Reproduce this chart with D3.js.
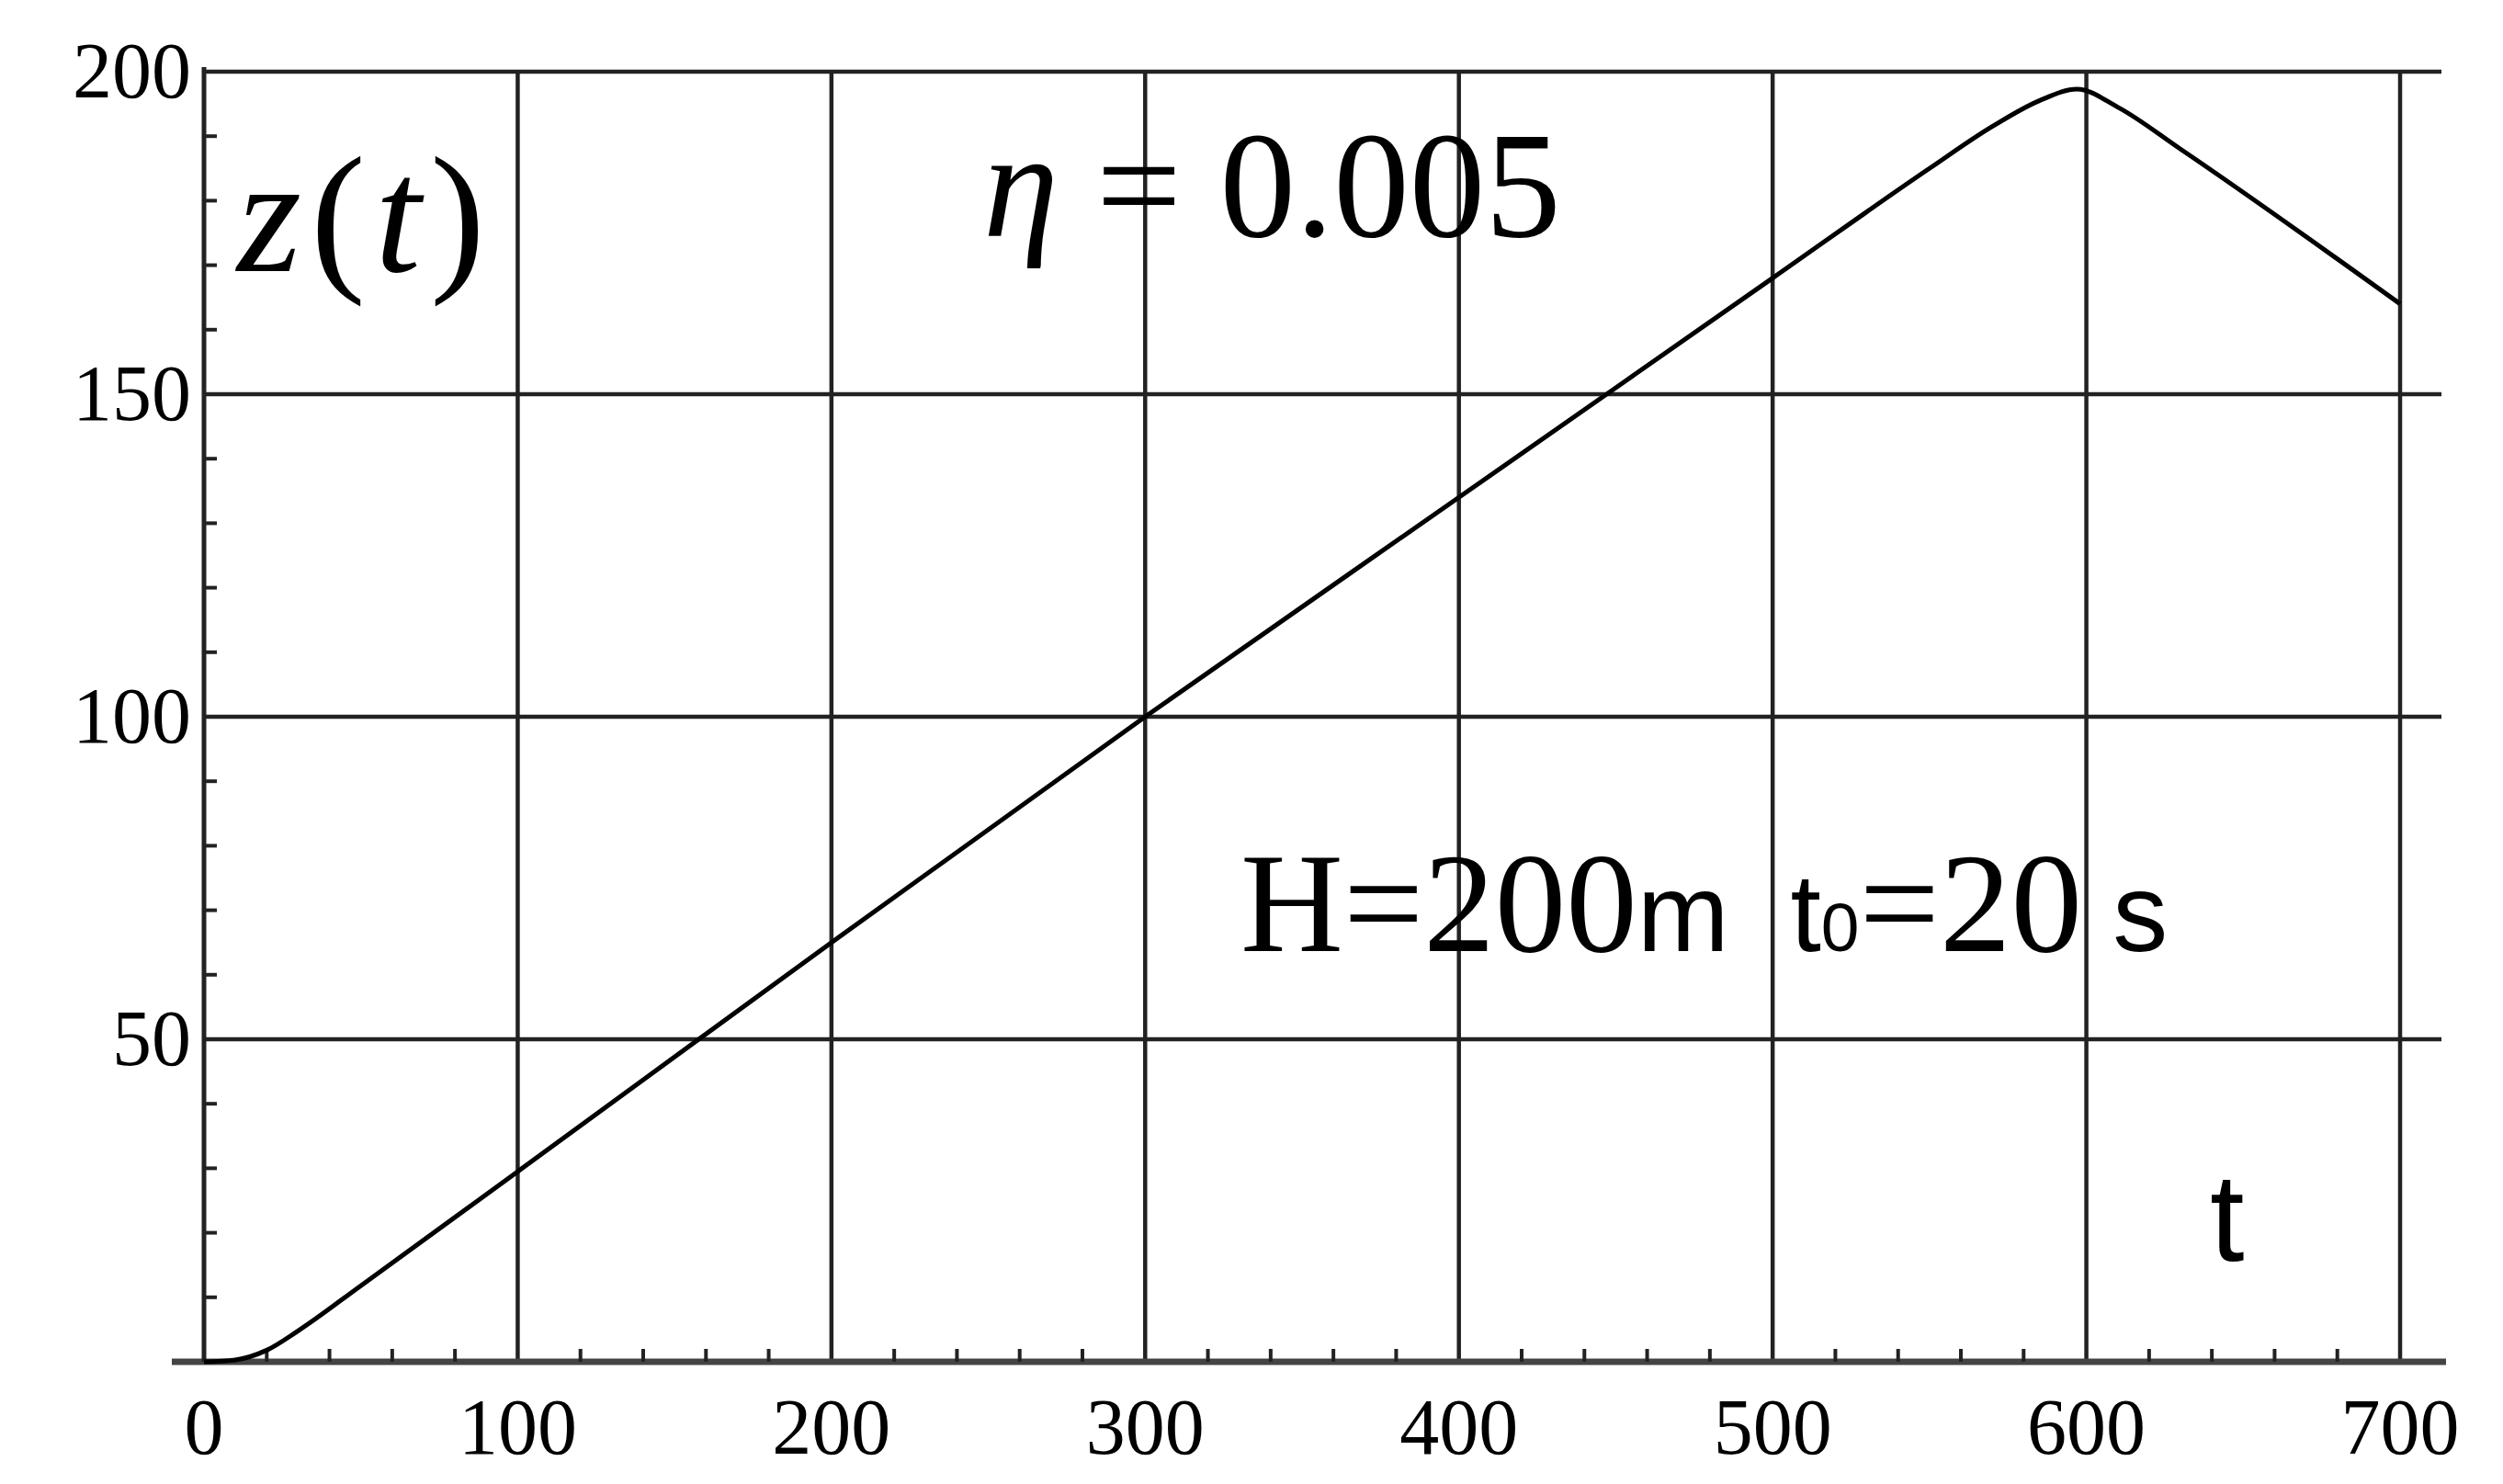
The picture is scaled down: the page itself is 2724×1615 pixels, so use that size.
<!DOCTYPE html>
<html><head><meta charset="utf-8">
<script src="https://cdnjs.cloudflare.com/ajax/libs/d3/7.8.5/d3.min.js"></script>
<style>body{margin:0;background:#fff}</style>
</head><body>
<svg id="chart" width="2724" height="1615"></svg>
<script>
var tValues = [0, 10, 20, 30, 50, 100, 200, 300, 400, 500, 550, 570, 585, 597, 610, 630, 700];
var zValues = [0, 0.3, 1.8, 4.8, 11.8, 29.5, 65, 100, 134, 168, 185, 191.5, 195.5, 197.3, 194.5, 188, 164];
var xTicks = [0, 100, 200, 300, 400, 500, 600, 700];
var yTicks = [50, 100, 150, 200];

var svg = d3.select("#chart");
var x = d3.scaleLinear().domain([0, 700]).range([222, 2612]);
var y = d3.scaleLinear().domain([0, 200]).range([1482, 78]);
var serif = "'Liberation Serif','DejaVu Serif',serif";
var sans = "'Liberation Sans',Arial,sans-serif";

// grid
svg.selectAll(".vg").data(xTicks.slice(1)).enter().append("line")
  .attr("x1", d => x(d)).attr("x2", d => x(d))
  .attr("y1", y(0)).attr("y2", y(200))
  .attr("stroke", "#222").attr("stroke-width", 4.5);
svg.selectAll(".hg").data(yTicks).enter().append("line")
  .attr("x1", x(0)).attr("x2", x(700) + 45)
  .attr("y1", d => y(d)).attr("y2", d => y(d))
  .attr("stroke", "#222").attr("stroke-width", 4.5);

// axes
svg.append("line").attr("x1", x(0) - 35).attr("x2", x(700) + 50)
  .attr("y1", y(0)).attr("y2", y(0)).attr("stroke", "#444").attr("stroke-width", 7);
svg.append("line").attr("x1", x(0)).attr("x2", x(0))
  .attr("y1", y(0)).attr("y2", y(200) - 5).attr("stroke", "#222").attr("stroke-width", 5);

// minor ticks
var xMinor = d3.range(0, 701, 20).filter(d => d % 100);
svg.selectAll(".xm").data(xMinor).enter().append("line")
  .attr("x1", d => x(d)).attr("x2", d => x(d))
  .attr("y1", y(0)).attr("y2", y(0) - 14)
  .attr("stroke", "#222").attr("stroke-width", 4);
var yMinor = d3.range(0, 201, 10).filter(d => d % 50);
svg.selectAll(".ym").data(yMinor).enter().append("line")
  .attr("x1", x(0)).attr("x2", x(0) + 14)
  .attr("y1", d => y(d)).attr("y2", d => y(d))
  .attr("stroke", "#222").attr("stroke-width", 4);

// tick labels
svg.selectAll(".xl").data(xTicks).enter().append("text")
  .attr("x", d => x(d)).attr("y", 1582)
  .attr("text-anchor", "middle").attr("font-family", serif).attr("font-size", 86)
  .text(d => d);
svg.selectAll(".yl").data(yTicks).enter().append("text")
  .attr("x", x(0) - 14).attr("y", d => y(d) + 28)
  .attr("text-anchor", "end").attr("font-family", serif).attr("font-size", 86)
  .text(d => d);

// curve
var line = d3.line().x((d, i) => x(tValues[i])).y(d => y(d)).curve(d3.curveMonotoneX);
svg.append("path").datum(zValues).attr("d", line)
  .attr("fill", "none").attr("stroke", "#000").attr("stroke-width", 5);

// annotations
var zt = svg.append("text").attr("x", 258).attr("y", 295).attr("font-family", serif)
  .attr("font-size", 180).attr("letter-spacing", 10);
zt.append("tspan").attr("font-style", "italic").text("z");
zt.append("tspan").text("(");
zt.append("tspan").attr("font-style", "italic").text("t");
zt.append("tspan").text(")");
var eta = svg.append("text").attr("x", 1070).attr("y", 257).attr("font-family", serif).attr("font-size", 165);
eta.append("tspan").attr("font-style", "italic").text("η");
eta.append("tspan").text(" = 0.005");
var h = svg.append("text").attr("x", 1350).attr("y", 1035).attr("font-size", 155);
h.append("tspan").attr("font-family", serif).text("H=200");
h.append("tspan").attr("font-family", sans).attr("font-size", 120).text("m\u00a0\u00a0t");
h.append("tspan").attr("font-family", sans).attr("font-size", 75).text("0");
h.append("tspan").attr("font-family", serif).text("=20");
h.append("tspan").attr("font-family", sans).attr("font-size", 120).text(" s");
svg.append("text").attr("x", 2405).attr("y", 1372).attr("font-family", sans)
  .attr("font-size", 135).text("t");
</script>
</body></html>
